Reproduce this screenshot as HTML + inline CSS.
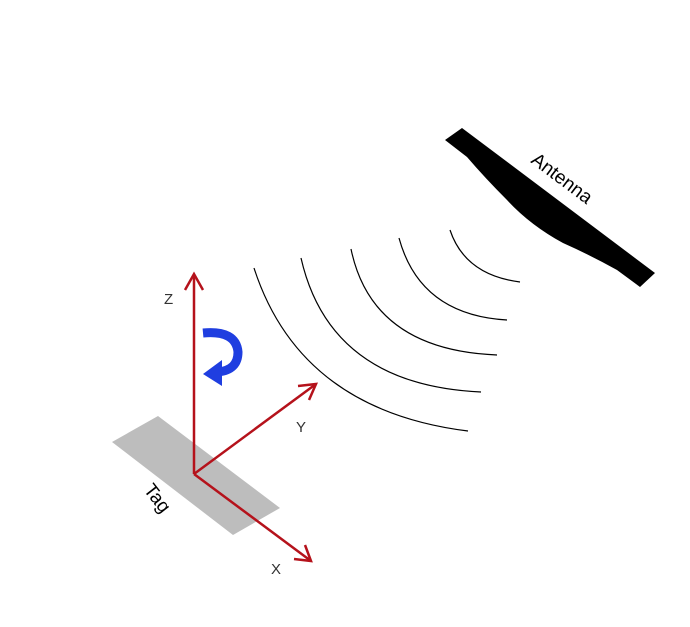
<!DOCTYPE html>
<html><head><style>body{margin:0;background:#fff}svg{display:block}</style></head><body>
<svg width="690" height="627" xmlns="http://www.w3.org/2000/svg" font-family="Liberation Sans, sans-serif">
<rect width="690" height="627" fill="#fff"/>
<path d="M445,140 L462,128 L655,273 L640,287 L617,270 Q590,255 563,243 Q530,225 507,200 Q485,178 467,157 Z" fill="#000"/>
<text x="0" y="0" font-size="19" transform="translate(530,162) rotate(37)">Antenna</text>
<g fill="none" stroke="#000" stroke-width="1.2">
<path d="M450,230 Q465,275 520,282"/>
<path d="M399,238 Q420,315 507,320"/>
<path d="M351,249 Q372,350 497,355"/>
<path d="M301,258 Q330,385 481,392"/>
<path d="M254,268 Q300,410 468,431"/>
</g>
<polygon points="112,442 158,416 280,508 233,535" fill="#bdbdbd"/>
<text font-size="19" transform="translate(143,490) rotate(52)">Tag</text>
<g stroke="#b5121b" stroke-width="2.5" fill="none">
<line x1="194" y1="474" x2="194" y2="274"/>
<polyline points="185,290 194,274 203,290"/>
<line x1="194" y1="474" x2="316" y2="384"/>
<polyline points="298,386 316,384 309,400"/>
<line x1="194" y1="474" x2="311" y2="561"/>
<polyline points="305,545 311,561 294,559"/>
</g>
<text x="164" y="304" font-size="15" fill="#333">Z</text>
<text x="296" y="432" font-size="15" fill="#333">Y</text>
<text x="271" y="574" font-size="15" fill="#333">X</text>
<path d="M203,333 Q236,330 238,352 Q238,370 218,372" fill="none" stroke="#1f3ee0" stroke-width="9"/>
<polygon points="222,360 222,386 203,374" fill="#1f3ee0"/>
</svg>
</body></html>
